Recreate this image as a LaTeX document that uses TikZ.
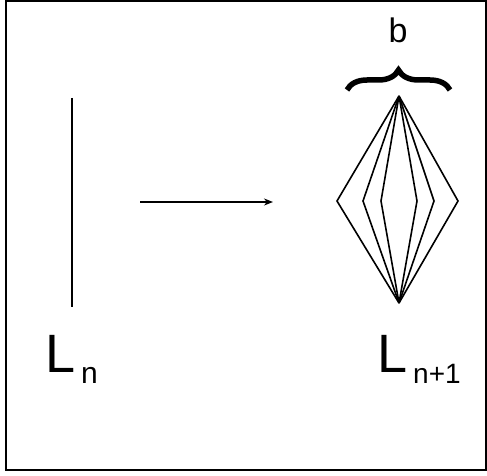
\documentclass[tikz,border=0pt]{standalone}
\usepackage{fontspec}
\setmainfont{Liberation Sans}
\usetikzlibrary{decorations.pathreplacing,arrows.meta}
\begin{document}
\begin{tikzpicture}[x=1pt,y=1pt,
  thin line/.style={line width=1.6pt},
  frame line/.style={line width=2pt},
  label big/.style={inner sep=0pt, anchor=base west, font=\fontsize{54}{54}\selectfont},
  sub/.style={font=\fontsize{30}{30}\selectfont}]
\useasboundingbox (0,0) rectangle (487,475);
\draw[frame line] (6,5) rectangle (486,474);
% L_n side
\coordinate (vtop) at (72,377);
\coordinate (vbot) at (72,168);
\draw[thin line] (vtop) -- (vbot);
\node[label big] (Ln) at (45,103) {L\hspace{6pt}\raisebox{-11pt}{\fontsize{30}{30}\selectfont n}};
% arrow
\coordinate (astart) at (140,273);
\coordinate (aend) at (273,273);
\draw[thin line,-{Stealth[length=9pt,width=7pt]}] (astart) -- (aend);
% diamond bundle
\coordinate (top) at (399,379);
\coordinate (bot) at (399,172);
\foreach \x [count=\i] in {337,363,381,417,434,458}{
  \coordinate (m\i) at (\x,274);
  \draw[thin line,line join=miter] (top) -- (m\i) -- (bot);
}
% brace
\coordinate (bl) at (347,385);
\coordinate (br) at (450,385);
\draw[line width=5.5pt,decorate,decoration={brace,amplitude=20pt}] (bl) -- (br);
\node[inner sep=0pt,anchor=base,font=\fontsize{34}{34}\selectfont] (b) at (398,432) {b};
\node[label big] (Ln1) at (377,103) {L\hspace{6pt}\raisebox{-11pt}{\fontsize{28}{28}\selectfont n+1}};
\end{tikzpicture}
\end{document}
